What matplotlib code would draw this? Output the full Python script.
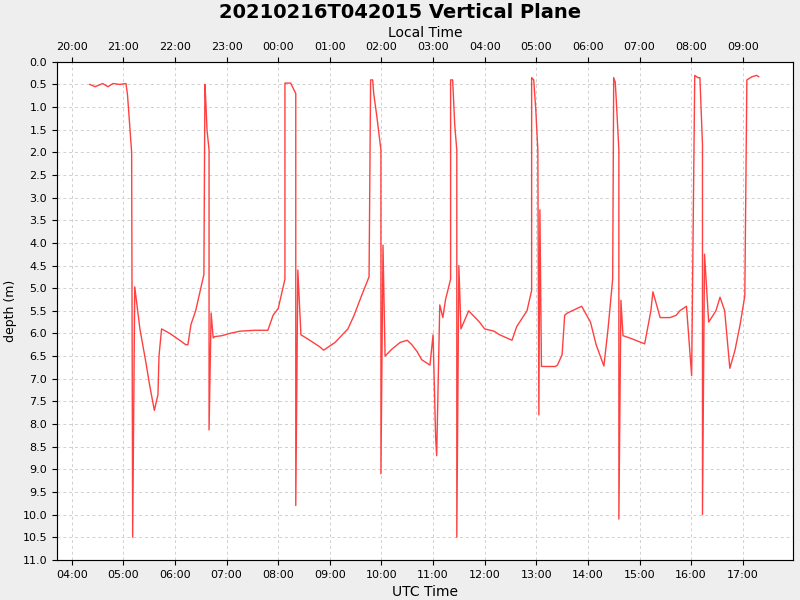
import matplotlib
matplotlib.use("Agg")
import matplotlib.pyplot as plt
from matplotlib.ticker import FixedLocator, MultipleLocator

# UTC hours (decimal) and depth in metres
utc_hours = [4.35, 4.45, 4.6, 4.7, 4.8, 4.93, 5.05, 5.08, 5.16, 5.18, 5.22, 5.32, 5.43, 5.51, 5.6,
             5.67, 5.69, 5.74, 5.9, 6.09, 6.21, 6.25, 6.31, 6.4, 6.56, 6.58, 6.6, 6.62, 6.66, 6.66,
             6.7, 6.74, 6.77, 6.91, 7.06, 7.26, 7.55, 7.8, 7.9, 8.0, 8.13, 8.13, 8.24, 8.34, 8.34,
             8.38, 8.44, 8.61, 8.81, 8.88, 9.1, 9.35, 9.47, 9.62, 9.76, 9.79, 9.83, 9.85, 9.91, 9.99,
             9.99, 10.03, 10.07, 10.2, 10.36, 10.5, 10.59, 10.69, 10.78, 10.94, 11.0, 11.05, 11.07,
             11.13, 11.19, 11.24, 11.34, 11.34, 11.38, 11.42, 11.46, 11.46, 11.5, 11.54, 11.69, 11.9,
             12.0, 12.18, 12.29, 12.53, 12.62, 12.82, 12.91, 12.91, 12.95, 12.99, 13.03, 13.05, 13.07,
             13.1, 13.37, 13.41, 13.5, 13.55, 13.6, 13.88, 14.05, 14.16, 14.27, 14.31, 14.39, 14.48,
             14.5, 14.53, 14.55, 14.6, 14.6, 14.64, 14.68, 14.81, 15.1, 15.22, 15.26, 15.4, 15.59,
             15.71, 15.78, 15.91, 16.01, 16.07, 16.13, 16.17, 16.22, 16.22, 16.26, 16.34, 16.48,
             16.56, 16.65, 16.75, 16.85, 16.95, 17.04, 17.08, 17.18, 17.27, 17.31]
depth_m = [0.5, 0.55, 0.48, 0.55, 0.48, 0.5, 0.48, 0.73, 2.0, 10.5, 4.97, 5.9, 6.6, 7.15, 7.7,
           7.35, 6.5, 5.9, 6.0, 6.15, 6.25, 6.25, 5.8, 5.5, 4.7, 0.5, 0.95, 1.5, 1.95, 8.13,
           5.55, 6.1, 6.07, 6.05, 6.0, 5.95, 5.93, 5.93, 5.6, 5.45, 4.8, 0.47, 0.47, 0.7, 9.8,
           4.6, 6.03, 6.15, 6.3, 6.37, 6.2, 5.9, 5.6, 5.15, 4.75, 0.4, 0.4, 0.7, 1.2, 1.95,
           9.1, 4.05, 6.5, 6.35, 6.2, 6.15, 6.25, 6.4, 6.58, 6.7, 6.03, 8.3, 8.7,
           5.37, 5.65, 5.26, 4.8, 0.4, 0.4, 1.4, 1.95, 10.5, 4.5, 5.9, 5.5, 5.75,
           5.9, 5.95, 6.03, 6.15, 5.85, 5.5, 5.05, 0.35, 0.4, 1.05, 1.95, 7.8, 3.27,
           6.73, 6.73, 6.7, 6.47, 5.6, 5.55, 5.4, 5.75, 6.25, 6.6, 6.72, 5.9, 4.8,
           0.35, 0.45, 0.85, 1.95, 10.1, 5.27, 6.05, 6.1, 6.23, 5.5, 5.08, 5.65, 5.65,
           5.6, 5.5, 5.4, 6.93, 0.3, 0.35, 0.35, 1.83, 10.0, 4.25, 5.75, 5.5,
           5.2, 5.5, 6.77, 6.37, 5.8, 5.17, 0.4, 0.33, 0.3, 0.33]

utc_ticks = list(range(4, 18))
local_offset = -8

fig = plt.figure(figsize=(8, 6), dpi=100, facecolor="#eeeeee")
ax = fig.add_axes([0.071, 0.067, 0.92, 0.83])
ax.set_facecolor("white")
ax.plot(utc_hours, depth_m, color="#ff4040", linewidth=1)

ax.set_xlim(3.71, 17.97)
ax.set_ylim(11.0, 0.0)
ax.xaxis.set_major_locator(FixedLocator(utc_ticks))
ax.set_xticklabels([f"{h:02d}:00" for h in utc_ticks], fontsize=8)
ax.yaxis.set_major_locator(MultipleLocator(0.5))
ax.set_yticklabels([f"{v:.1f}" for v in ax.get_yticks()], fontsize=8)
ax.grid(True, color="#d0d0d0", linestyle=(0, (3, 3)), linewidth=0.7)
ax.set_xlabel("UTC Time", fontsize=10)
ax.set_ylabel("depth (m)", fontsize=9)
for s in ax.spines.values():
    s.set_color("#888888")

top = ax.twiny()
top.set_xlim(ax.get_xlim())
top.xaxis.set_major_locator(FixedLocator(utc_ticks))
top.set_xticklabels([f"{(h + local_offset) % 24:02d}:00" for h in utc_ticks], fontsize=8)
top.set_xlabel("Local Time", fontsize=10)

fig.suptitle("20210216T042015 Vertical Plane", fontsize=14, fontweight="bold", y=0.995)
fig.savefig("out.png", dpi=100, facecolor=fig.get_facecolor())
